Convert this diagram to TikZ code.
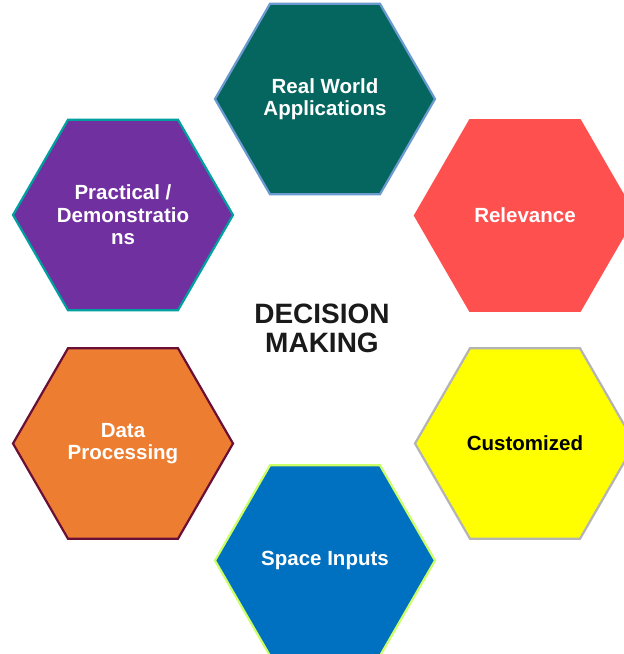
\documentclass[tikz,border=0pt]{standalone}
\usepackage{fontspec}
\setmainfont{Liberation Sans}
\usetikzlibrary{shapes.geometric}
\definecolor{tealf}{HTML}{05665F}
\definecolor{tealb}{HTML}{6A9AD0}
\definecolor{redf}{HTML}{FF5050}
\definecolor{yelf}{HTML}{FFFF00}
\definecolor{yelb}{HTML}{B4B4B4}
\definecolor{bluef}{HTML}{0070C0}
\definecolor{blueb}{HTML}{CCFF66}
\definecolor{orf}{HTML}{ED7D31}
\definecolor{orb}{HTML}{6A0F35}
\definecolor{purf}{HTML}{7030A0}
\definecolor{purb}{HTML}{00A0A0}
\definecolor{dark}{HTML}{1A1A1A}
\begin{document}
\begin{tikzpicture}[x=1pt,y=-1pt,
  hexa/.style={regular polygon, regular polygon sides=6, minimum size=220pt,
    inner sep=0pt, outer sep=0pt, line width=2.2pt, align=center,
    font=\fontsize{20.5}{22.5}\selectfont\bfseries, text=white}]
\useasboundingbox (0,0) rectangle (624,654);
\clip (0,0) rectangle (624,654);
\node[hexa, fill=tealf, draw=tealb] (real) at (325,99) {Real World\\Applications};
\node[hexa, fill=redf, draw=redf] (rel) at (525,215.5) {Relevance};
\node[hexa, fill=yelf, draw=yelb, text=black] (cust) at (525,443.5) {Customized};
\node[hexa, fill=bluef, draw=blueb] (space) at (325,560.5) {Space Inputs};
\node[hexa, fill=orf, draw=orb] (data) at (123,443.5) {Data\\Processing};
\node[hexa, fill=purf, draw=purb] (prac) at (123,215) {Practical /\\Demonstratio\\ns};
\node[align=center, text=dark, font=\fontsize{28}{29}\selectfont\bfseries] (dm) at (322,328) {DECISION\\MAKING};
\end{tikzpicture}
\end{document}
